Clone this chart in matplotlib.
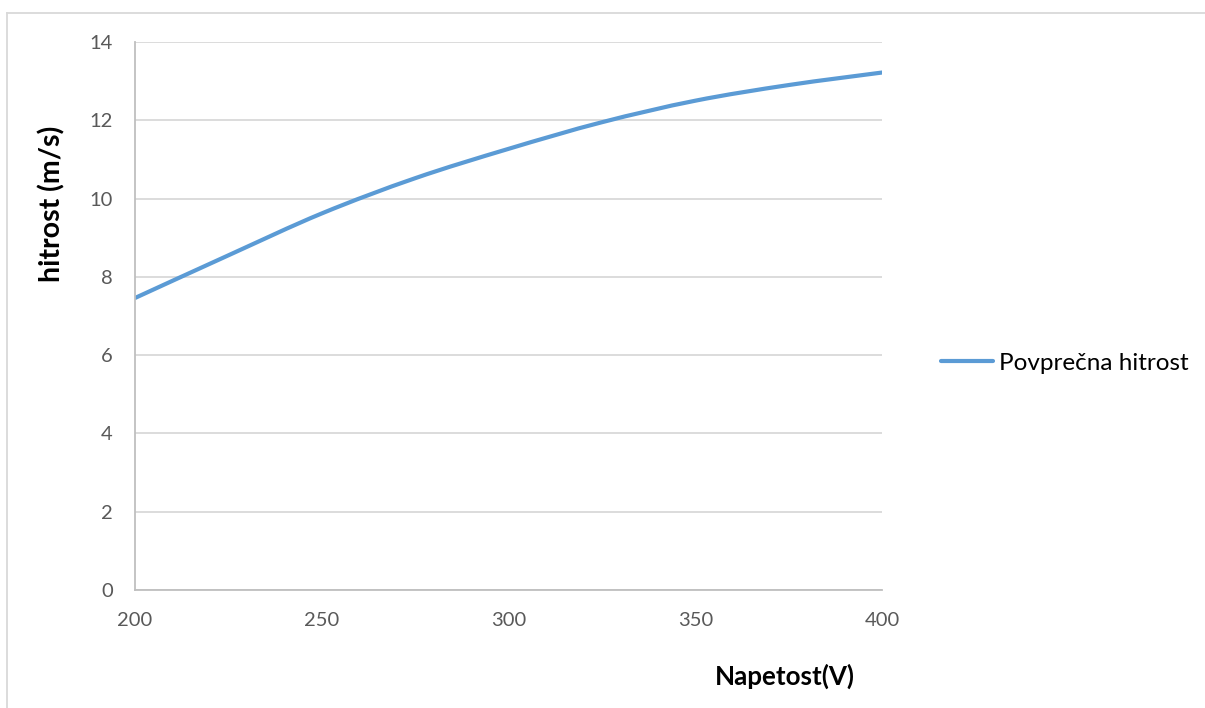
import matplotlib
matplotlib.use("Agg")
import matplotlib.pyplot as plt
from matplotlib.lines import Line2D
from matplotlib.path import Path
from matplotlib.patches import PathPatch

# napetost (V) and povprecna hitrost (m/s)
napetost = [200, 225, 250, 275, 300, 325, 350, 375, 400]
hitrost = [7.46, 8.55, 9.62, 10.52, 11.27, 11.95, 12.50, 12.90, 13.22]

x_ticks = [200, 250, 300, 350, 400]
y_ticks = [0, 2, 4, 6, 8, 10, 12, 14]

plt.rcParams['font.family'] = ['Lato', 'DejaVu Sans']

LINE_C = "#5b9bd5"

W, H = 1205, 708
fig = plt.figure(figsize=(W / 100, H / 100), dpi=100)
ax = fig.add_axes([135 / W, 1 - 590 / H, (882 - 135) / W, (590 - 42) / H])


def smooth_path(xs, ys):
    # Excel style smoothed line: cubic bezier segments through the points
    pts = list(zip(xs, ys))
    n = len(pts)
    verts = [pts[0]]
    codes = [Path.MOVETO]
    for i in range(n - 1):
        p0 = pts[i - 1] if i > 0 else pts[i]
        p1 = pts[i]
        p2 = pts[i + 1]
        p3 = pts[i + 2] if i + 2 < n else pts[i + 1]
        c1 = (p1[0] + (p2[0] - p0[0]) / 6, p1[1] + (p2[1] - p0[1]) / 6)
        c2 = (p2[0] - (p3[0] - p1[0]) / 6, p2[1] - (p3[1] - p1[1]) / 6)
        verts += [c1, c2, p2]
        codes += [Path.CURVE4] * 3
    return Path(verts, codes)


ax.add_patch(PathPatch(smooth_path(napetost, hitrost), fill=False,
                       edgecolor=LINE_C, lw=3.0, capstyle="round",
                       joinstyle="round"))
# proxy for the legend entry
ax.plot([], [], color=LINE_C, lw=3.0, solid_capstyle="round",
        label="Povprečna hitrost")

ax.set_xlim(200, 400)
ax.set_ylim(0, 14)
ax.set_xticks(x_ticks)
ax.set_yticks(y_ticks)
ax.grid(axis="y", color="#d9d9d9", lw=1.3)
ax.set_axisbelow(True)
for s in ["top", "right"]:
    ax.spines[s].set_visible(False)
for s in ["left", "bottom"]:
    ax.spines[s].set_color("#bfbfbf")
    ax.spines[s].set_linewidth(1.3)
ax.tick_params(axis="y", length=0, pad=16, labelsize=14.5, labelcolor="#595959")
ax.tick_params(axis="x", length=0, pad=16, labelsize=14.5, labelcolor="#595959")

fig.text(785 / W, 1 - 676 / H, "Napetost(V)", ha="center", va="center",
         fontsize=18.7, fontweight="bold")
fig.text(52 / W, 1 - 204 / H, "hitrost (m/s)", ha="center", va="center",
         rotation=90, fontsize=20.5, fontweight="bold")

ax.legend(loc="center left", bbox_to_anchor=(941 / W, 1 - 363 / H),
          bbox_transform=fig.transFigure, frameon=False, fontsize=17.5,
          handlelength=2.15, handletextpad=0.25, borderaxespad=0,
          borderpad=0)

# outer chart border (top and left visible)
fig.add_artist(Line2D([7.5 / W, 1.0], [1 - 12.5 / H, 1 - 12.5 / H],
                      color="#d9d9d9", lw=1.3, transform=fig.transFigure))
fig.add_artist(Line2D([7.5 / W, 7.5 / W], [1 - 12.5 / H, 0],
                      color="#d9d9d9", lw=1.3, transform=fig.transFigure))

fig.savefig("out.png", dpi=100)
